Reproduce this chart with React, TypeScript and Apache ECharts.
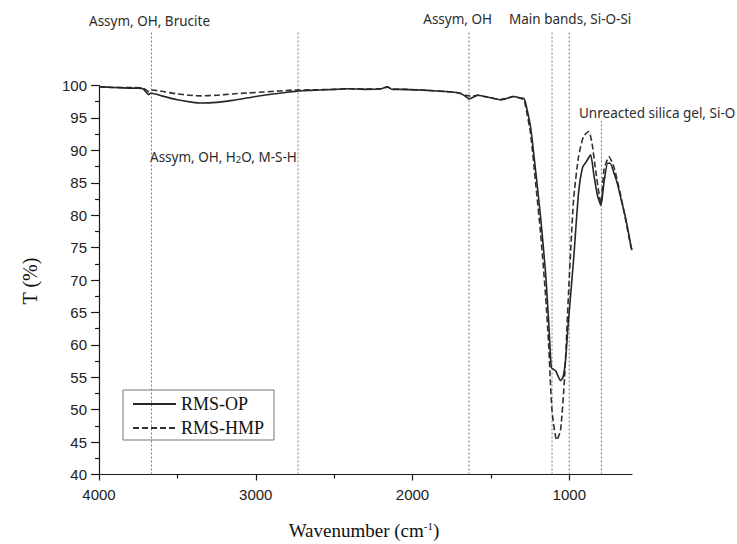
import React, { useEffect, useRef } from "react";
import * as echarts from "echarts";

const seriesNames = ["RMS-OP", "RMS-HMP"];

const opWavenumbers = [
  4000, 3900, 3800, 3750, 3720, 3700, 3685, 3670, 3640, 3600, 3500, 3400, 3350, 3250, 3150, 3050, 2950, 2850,
  2750, 2700, 2600, 2500, 2400, 2300, 2200, 2160, 2130, 2050, 1950, 1866, 1750, 1700, 1660, 1640, 1620, 1585,
  1540, 1480, 1440, 1400, 1355, 1320, 1290, 1279, 1247, 1215, 1183, 1151, 1132, 1115, 1100, 1087, 1056, 1040,
  1024, 1005, 973, 941, 915, 890, 864, 845, 820, 798, 779, 755, 740, 715, 694, 670, 640, 607, 600,
];
const opTransmittance = [
  99.8, 99.7, 99.6, 99.6, 99.5, 99.0, 98.6, 98.8, 98.7, 98.4, 97.8, 97.4, 97.3, 97.4, 97.7, 98.1, 98.5, 98.8,
  99.1, 99.2, 99.3, 99.4, 99.5, 99.4, 99.5, 99.8, 99.4, 99.4, 99.3, 99.2, 99.0, 98.8, 98.3, 97.9, 98.1, 98.5,
  98.3, 98.0, 97.8, 98.0, 98.3, 98.1, 98.0, 97.3, 93.6, 86.9, 79.7, 71.0, 63.8, 56.5, 56.2, 56.0, 54.5, 55.0,
  57.6, 63.8, 73.0, 83.4, 87.4, 88.3, 89.3, 86.5, 83.0, 81.5, 85.0, 88.0, 88.0, 86.5, 84.9, 82.5, 79.5, 75.3, 74.6,
];

const hmpWavenumbers = [
  4000, 3900, 3800, 3720, 3700, 3680, 3660, 3600, 3500, 3400, 3350, 3250, 3150, 3050, 2950, 2850, 2750, 2700,
  2600, 2500, 2400, 2300, 2200, 2160, 2130, 2050, 1950, 1866, 1750, 1700, 1660, 1640, 1620, 1585, 1540, 1480,
  1440, 1400, 1355, 1320, 1290, 1279, 1247, 1215, 1183, 1151, 1132, 1110, 1080, 1056, 1030, 1005, 973, 941, 910,
  876, 855, 832, 798, 779, 747, 715, 670, 607, 600,
];
const hmpTransmittance = [
  99.8, 99.7, 99.7, 99.6, 99.3, 99.0, 99.3, 99.1, 98.7, 98.45, 98.4, 98.5, 98.7, 98.85, 99.0, 99.15, 99.3, 99.3,
  99.35, 99.4, 99.5, 99.45, 99.5, 99.75, 99.45, 99.4, 99.3, 99.2, 99.0, 98.85, 98.5, 98.4, 98.3, 98.5, 98.3, 98.0,
  97.8, 98.0, 98.3, 98.1, 97.8, 96.8, 92.6, 85.0, 77.2, 67.5, 60.2, 49.8, 45.3, 46.8, 55.0, 67.9, 82.3, 89.0, 92.1,
  92.9, 91.1, 86.9, 81.8, 86.9, 89.0, 87.4, 82.8, 75.1, 74.5,
];

const bandWavenumbers = [3665, 2730, 1640, 1110, 1000, 795];
const bandTops = [108.3, 108.3, 108.3, 108.3, 108.3, 94.5];

const xTickValues = [1000, 2000, 3000, 4000];
const xMinorTickValues = [1500, 2500, 3500];

const annotationFont = "'Noto Sans', 'Open Sans', sans-serif";
const tickFont = "'Liberation Sans', Arial, sans-serif";
const serifFont = "'Liberation Serif', 'Times New Roman', serif";

export default function App() {
  const ref = useRef<HTMLDivElement>(null);

  useEffect(() => {
    if (!ref.current) return;
    const chart = echarts.init(ref.current, undefined, { renderer: "svg" });

    const opData = opWavenumbers.map((w, i) => [w, opTransmittance[i]]);
    const hmpData = hmpWavenumbers.map((w, i) => [w, hmpTransmittance[i]]);
    const bandData = bandWavenumbers.map((w, i) => [w, bandTops[i]]);

    const axisColor = "#1a1a1a";
    const annStyle = { fontSize: 13.5, fontFamily: annotationFont, fill: "#2b2b2b" };

    chart.setOption({
      animation: false,
      backgroundColor: "#ffffff",
      grid: { left: 99, right: 105, top: 85.5, bottom: 69.5, containLabel: false, outerBoundsMode: "none" },
      legend: {
        data: seriesNames,
        orient: "vertical",
        left: 123,
        top: 390,
        borderColor: "#777",
        borderWidth: 1,
        padding: [5, 10, 3, 9],
        itemWidth: 43,
        itemHeight: 14,
        itemGap: 6,
        itemStyle: { opacity: 0, borderWidth: 0 },
        textStyle: { fontFamily: serifFont, fontSize: 18, color: "#111" },
      },
      xAxis: [
        {
          type: "value",
          min: 600,
          max: 4000,
          inverse: true,
          position: "bottom",
          axisLine: { show: true, lineStyle: { color: axisColor, width: 1.2 } },
          axisTick: { show: true, customValues: xTickValues, length: 6, lineStyle: { color: axisColor, width: 1.2 } },
          axisLabel: {
            show: true,
            customValues: xTickValues,
            formatter: (v: number) => String(v),
            fontSize: 15,
            fontFamily: tickFont,
            color: "#222",
            margin: 12,
          },
          splitLine: { show: false },
        },
        {
          type: "value",
          min: 600,
          max: 4000,
          inverse: true,
          position: "bottom",
          axisLine: { show: false },
          axisTick: { show: true, customValues: xMinorTickValues, length: 4, lineStyle: { color: axisColor, width: 1.2 } },
          axisLabel: { show: false },
          splitLine: { show: false },
        },
      ],
      yAxis: {
        type: "value",
        min: 40,
        max: 100,
        interval: 5,
        axisLine: { show: true, lineStyle: { color: axisColor, width: 1.2 } },
        axisTick: { show: true, length: 8, lineStyle: { color: axisColor, width: 1.2 } },
        minorTick: { show: true, splitNumber: 2, length: 4, lineStyle: { color: axisColor, width: 1.2 } },
        axisLabel: { fontSize: 15, fontFamily: tickFont, color: "#222", margin: 12 },
        splitLine: { show: false },
      },
      series: [
        {
          type: "custom",
          name: "bands",
          xAxisIndex: 0,
          yAxisIndex: 0,
          clip: false,
          silent: true,
          z: 1,
          data: bandData,
          renderItem: (params: any, api: any) => {
            const x = api.value(0);
            const top = api.value(1);
            const p1 = api.coord([x, 40]);
            const p2 = api.coord([x, top]);
            return {
              type: "line",
              shape: { x1: p1[0], y1: p1[1], x2: p2[0], y2: p2[1] },
              style: { stroke: "#7a7a7a", lineWidth: 1, lineDash: [2, 2] },
            };
          },
        },
        {
          type: "line",
          name: seriesNames[0],
          data: opData,
          symbol: "none",
          showSymbol: false,
          smooth: 0.2,
          z: 3,
          lineStyle: { color: "#262626", width: 1.6 },
          itemStyle: { color: "#262626" },
        },
        {
          type: "line",
          name: seriesNames[1],
          data: hmpData,
          symbol: "none",
          showSymbol: false,
          smooth: 0.2,
          z: 2,
          lineStyle: { color: "#303030", width: 1.6, type: [6, 3] },
          itemStyle: { color: "#303030" },
        },
      ],
      graphic: [
        {
          type: "text",
          x: 89,
          y: 20.5,
          style: { text: "Assym, OH, Brucite", align: "left", verticalAlign: "middle", ...annStyle },
        },
        {
          type: "text",
          x: 150,
          y: 157,
          style: {
            text: "{a|Assym, OH, H}{b|2}{a|O, M-S-H}",
            align: "left",
            verticalAlign: "middle",
            rich: {
              a: { ...annStyle },
              b: { fontSize: 9.5, fontFamily: annotationFont, fill: "#2b2b2b", verticalAlign: "bottom" },
            },
          },
        },
        {
          type: "text",
          x: 492,
          y: 18.5,
          style: { text: "Assym, OH", align: "right", verticalAlign: "middle", ...annStyle },
        },
        {
          type: "text",
          x: 509,
          y: 18.5,
          style: { text: "Main bands, Si-O-Si", align: "left", verticalAlign: "middle", ...annStyle },
        },
        {
          type: "text",
          x: 579,
          y: 112.5,
          style: { text: "Unreacted silica gel, Si-O", align: "left", verticalAlign: "middle", ...annStyle },
        },
        {
          type: "text",
          x: 364,
          y: 530,
          style: {
            text: "{a|Wavenumber (cm}{s|-1}{a|)}",
            align: "center",
            verticalAlign: "middle",
            rich: {
              a: { fontSize: 19, fontFamily: serifFont, fill: "#111" },
              s: { fontSize: 11, fontFamily: serifFont, fill: "#111", verticalAlign: "top" },
            },
          },
        },
        {
          type: "text",
          x: 30,
          y: 281,
          rotation: Math.PI / 2,
          style: {
            text: "T (%)",
            align: "center",
            verticalAlign: "middle",
            fontSize: 20,
            fontFamily: serifFont,
            fill: "#111",
          },
        },
      ],
    });

    return () => {
      chart.dispose();
    };
  }, []);

  return (
    <div
      ref={ref}
      style={{ position: "absolute", left: 0, top: 0, width: 737, height: 544, background: "#fff" }}
    />
  );
}
